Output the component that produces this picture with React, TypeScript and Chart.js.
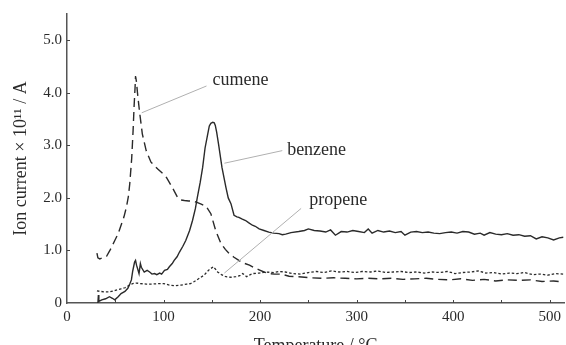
import React, { useEffect, useRef } from "react";
import { Chart, registerables } from "chart.js";

Chart.register(...registerables);

// Temperature (°C) and ion current (×10^11 A) readings
const cumeneT = [31, 32, 34, 37, 41, 45, 49.5, 53, 56, 59, 61.5, 63.5, 65, 67, 68.5, 69.5, 70.5, 71, 72, 73, 75, 78, 82, 87, 94, 100, 103, 109, 114.5, 118, 121.6, 126, 130, 134, 139, 144, 149, 154, 159.5, 164, 168, 173, 178, 183, 189, 194, 199, 204, 209, 215, 222, 230, 240, 252, 264, 276, 288, 300, 312, 324, 336, 348, 360, 372, 384, 396, 408, 420, 432, 444, 456, 468, 480, 492, 504, 514];
const cumeneV = [0.95, 0.86, 0.84, 0.86, 0.89, 1.02, 1.19, 1.32, 1.48, 1.64, 1.82, 2.02, 2.27, 2.75, 3.3, 3.75, 4.1, 4.32, 4.2, 4.0, 3.66, 3.22, 2.9, 2.68, 2.55, 2.45, 2.39, 2.2, 2.01, 1.96, 1.95, 1.94, 1.94, 1.92, 1.88, 1.84, 1.7, 1.38, 1.13, 1.02, 0.94, 0.87, 0.81, 0.76, 0.72, 0.67, 0.63, 0.59, 0.56, 0.55, 0.55, 0.51, 0.5, 0.48, 0.47, 0.48, 0.47, 0.46, 0.47, 0.46, 0.47, 0.45, 0.46, 0.47, 0.45, 0.44, 0.46, 0.43, 0.45, 0.42, 0.44, 0.43, 0.44, 0.41, 0.42, 0.4];

const benzeneT = [32, 32.5, 33, 36, 40, 44, 47, 49.5, 53, 56, 60, 63, 65, 66.7, 68, 69, 70, 71, 72, 73, 74.6, 76, 77, 80, 83, 85.6, 88, 90.7, 93, 96, 98, 101, 104, 106, 109, 111, 114, 116.5, 120, 123, 127, 130, 133, 135, 138, 140.5, 143, 145.7, 147.4, 149, 151, 152.5, 153.6, 155, 157, 160.5, 164.6, 167, 169.8, 173, 176, 178, 181, 185, 188, 192, 195, 199, 204, 209, 214, 219.6, 223, 226.5, 232, 240, 246, 250, 256, 262, 268, 273, 278, 284, 290, 296, 302, 308, 312, 316, 322, 328, 334, 340, 346, 350, 356, 362, 368, 374, 380, 386, 392, 398, 404, 410, 416, 422, 428, 432, 438, 444, 450, 456, 462, 468, 474, 480, 486, 492, 498, 504, 510, 514];
const benzeneV = [0.0, 0.15, 0.03, 0.06, 0.08, 0.12, 0.09, 0.06, 0.12, 0.18, 0.22, 0.28, 0.36, 0.44, 0.6, 0.69, 0.78, 0.81, 0.72, 0.66, 0.56, 0.75, 0.68, 0.59, 0.62, 0.59, 0.55, 0.56, 0.54, 0.57, 0.55, 0.62, 0.64, 0.69, 0.75, 0.81, 0.88, 0.97, 1.08, 1.19, 1.38, 1.57, 1.8, 2.01, 2.3, 2.58, 2.95, 3.21, 3.37, 3.42, 3.44, 3.43, 3.38, 3.25, 3.02, 2.58, 2.2, 2.0, 1.89, 1.67, 1.64, 1.63, 1.6, 1.57, 1.53, 1.48, 1.46, 1.41, 1.38, 1.35, 1.33, 1.32, 1.3, 1.31, 1.34, 1.36, 1.38, 1.41, 1.38, 1.37, 1.35, 1.39, 1.29, 1.36, 1.35, 1.38, 1.36, 1.34, 1.41, 1.33, 1.38, 1.35, 1.37, 1.34, 1.36, 1.29, 1.35, 1.36, 1.34, 1.35, 1.33, 1.32, 1.34, 1.35, 1.33, 1.36, 1.35, 1.31, 1.33, 1.29, 1.34, 1.31, 1.3, 1.32, 1.29, 1.3, 1.27, 1.28, 1.22, 1.26, 1.24, 1.2, 1.24, 1.25];

const propeneT = [31, 35, 40, 44, 50, 56, 60, 65, 68, 72, 76, 82, 88, 96, 100, 106, 112, 118, 124, 128, 132, 137, 142, 147, 151.5, 154, 156, 160, 164.6, 170, 175, 179, 182, 186, 189, 192, 199, 206, 214, 220, 226, 234, 242, 250, 258, 266, 274, 282, 290, 298, 306, 314, 322, 330, 338, 346, 354, 362, 370, 378, 386, 394, 402, 410, 418, 426, 434, 442, 450, 458, 466, 474, 482, 490, 498, 506, 514];
const propeneV = [0.23, 0.22, 0.21, 0.21, 0.24, 0.27, 0.29, 0.34, 0.37, 0.38, 0.37, 0.36, 0.36, 0.37, 0.37, 0.34, 0.33, 0.34, 0.36, 0.37, 0.41, 0.47, 0.53, 0.63, 0.69, 0.64, 0.59, 0.54, 0.5, 0.49, 0.5, 0.52, 0.56, 0.5, 0.53, 0.56, 0.57, 0.59, 0.58, 0.6, 0.59, 0.56, 0.55, 0.58, 0.6, 0.58, 0.61, 0.59, 0.6, 0.58, 0.6, 0.59, 0.61, 0.58, 0.59, 0.6, 0.58, 0.59, 0.57, 0.59, 0.58, 0.6, 0.56, 0.58, 0.59, 0.61, 0.57, 0.58, 0.55, 0.57, 0.56, 0.58, 0.54, 0.55, 0.53, 0.56, 0.55];

const seriesNames = ["cumene", "benzene", "propene"];
// label anchor (T, value) and leader line from curve point to label
const labelPos = [[150.7, 4.23], [228, 2.9], [250.8, 1.95]];
const leaderFrom = [[77.4, 3.62], [163, 2.66], [163, 0.57]];
const leaderTo = [[144.5, 4.13], [223, 2.9], [242.5, 1.8]];

const xMin = 0, xMax = 515, yMin = 0, yMax = 5.5;
const xMinorTicks = [50, 100, 150, 200, 250, 300, 350, 400, 450, 500];
const yMinorTicks = [1, 2, 3, 4, 5];

const FONT = "'Liberation Serif', 'DejaVu Serif', serif";
const INK = "#2a2a2a";

const toPts = (t: number[], v: number[]) => t.map((x, i) => ({ x, y: v[i] }));

const annotPlugin = {
  id: "annot",
  afterDraw(chart: any) {
    const { ctx, scales } = chart;
    const xs = scales.x, ys = scales.y;
    ctx.save();
    // inward tick marks
    ctx.strokeStyle = "#444";
    ctx.lineWidth = 1;
    const y0 = ys.getPixelForValue(0);
    xMinorTicks.forEach((t) => {
      const px = Math.round(xs.getPixelForValue(t)) + 0.5;
      ctx.beginPath();
      ctx.moveTo(px, y0);
      ctx.lineTo(px, y0 - 3);
      ctx.stroke();
    });
    const x0 = xs.getPixelForValue(0);
    yMinorTicks.forEach((v) => {
      const py = Math.round(ys.getPixelForValue(v)) + 0.5;
      ctx.beginPath();
      ctx.moveTo(x0, py);
      ctx.lineTo(x0 + 3, py);
      ctx.stroke();
    });
    // leader lines and labels
    ctx.strokeStyle = "#b0b0b0";
    ctx.lineWidth = 1;
    seriesNames.forEach((name, i) => {
      ctx.beginPath();
      ctx.moveTo(xs.getPixelForValue(leaderFrom[i][0]), ys.getPixelForValue(leaderFrom[i][1]));
      ctx.lineTo(xs.getPixelForValue(leaderTo[i][0]), ys.getPixelForValue(leaderTo[i][1]));
      ctx.stroke();
      ctx.fillStyle = INK;
      ctx.font = `18px ${FONT}`;
      ctx.textAlign = "left";
      ctx.textBaseline = "middle";
      ctx.fillText(name, xs.getPixelForValue(labelPos[i][0]), ys.getPixelForValue(labelPos[i][1]));
    });
    ctx.restore();
  },
};

export default function App() {
  const ref = useRef<HTMLCanvasElement>(null);
  useEffect(() => {
    const chart = new Chart(ref.current!, {
      type: "line",
      data: {
        datasets: [
          {
            label: "cumene",
            data: toPts(cumeneT, cumeneV),
            borderColor: INK,
            borderWidth: 1.4,
            borderDash: [9, 5],
            pointRadius: 0,
            tension: 0,
            fill: false,
          },
          {
            label: "benzene",
            data: toPts(benzeneT, benzeneV),
            borderColor: INK,
            borderWidth: 1.4,
            pointRadius: 0,
            tension: 0,
            fill: false,
          },
          {
            label: "propene",
            data: toPts(propeneT, propeneV),
            borderColor: INK,
            borderWidth: 1.3,
            borderDash: [2.5, 2],
            pointRadius: 0,
            tension: 0,
            fill: false,
          },
        ],
      },
      options: {
        animation: false,
        responsive: false,
        maintainAspectRatio: false,
        layout: { padding: { top: 13, right: 0, left: 0, bottom: 0 } },
        plugins: { legend: { display: false }, tooltip: { enabled: false } },
        scales: {
          x: {
            type: "linear",
            min: xMin,
            max: xMax,
            grid: { display: false, drawTicks: false },
            border: { display: true, color: "#555", width: 1.5 },
            ticks: {
              stepSize: 100,
              includeBounds: false,
              autoSkip: false,
              maxRotation: 0,
              padding: 5,
              color: INK,
              font: { family: FONT, size: 15 },
              callback: (v: any) => String(v),
            },
            title: {
              display: true,
              text: "Temperature / °C",
              color: INK,
              font: { family: FONT, size: 18 },
              padding: { top: 0, bottom: 3 },
            },
            afterFit: (s: any) => {
              s.height = 57;
            },
          },
          y: {
            type: "linear",
            min: yMin,
            max: yMax,
            grid: { display: false, drawTicks: false },
            border: { display: true, color: "#555", width: 1.5 },
            ticks: {
              stepSize: 1,
              includeBounds: false,
              padding: 5,
              color: INK,
              font: { family: FONT, size: 15 },
              callback: (v: any) => (v === 0 ? "0" : Number(v).toFixed(1)),
            },
            title: {
              display: true,
              text: "Ion current × 10¹¹ / A",
              color: INK,
              font: { family: FONT, size: 18 },
              padding: { top: 10, bottom: 0 },
            },
            afterFit: (s: any) => {
              s.width = 67;
            },
          },
        },
      },
      plugins: [annotPlugin],
    });
    return () => chart.destroy();
  }, []);
  return (
    <div style={{ position: "absolute", left: 0, top: 0, width: 566, height: 345, overflow: "hidden", background: "#fff" }}>
      <canvas ref={ref} width={566} height={360} style={{ display: "block", width: 566, height: 360 }} />
    </div>
  );
}
